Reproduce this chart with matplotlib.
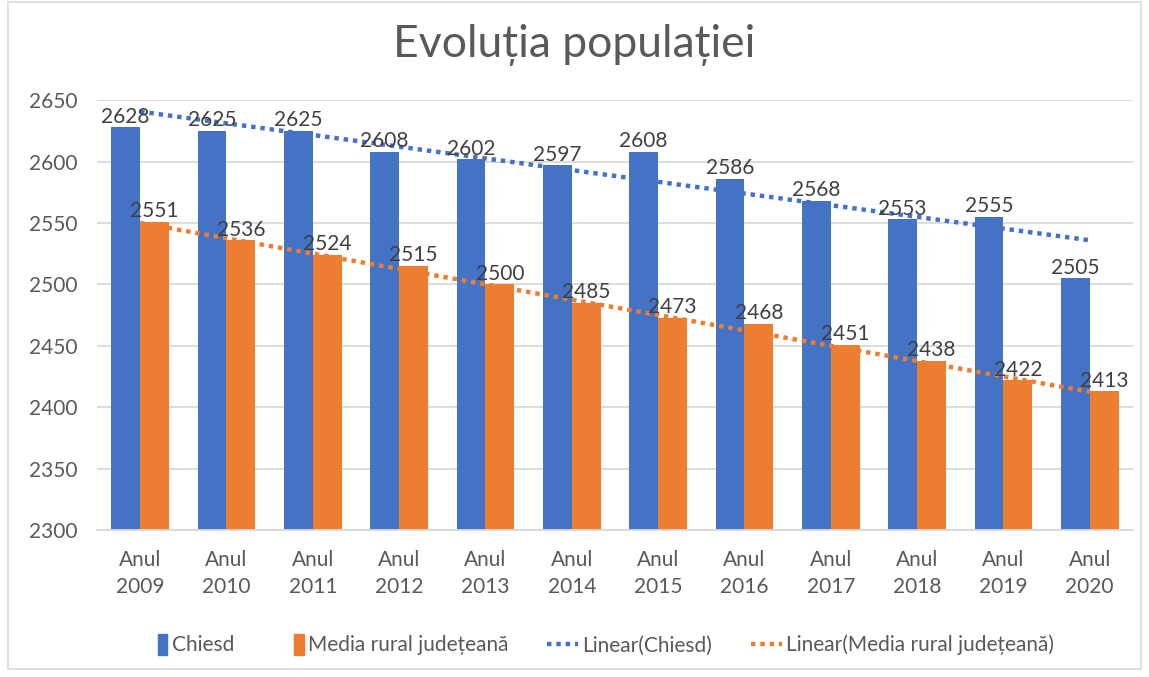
import numpy as np
import matplotlib
matplotlib.use("Agg")
import matplotlib.pyplot as plt
from matplotlib.patches import Rectangle, Patch
from matplotlib.legend_handler import HandlerPatch

plt.rcParams['font.family'] = ['Lato', 'DejaVu Sans']

years = ['Anul\n2009', 'Anul\n2010', 'Anul\n2011', 'Anul\n2012', 'Anul\n2013', 'Anul\n2014',
         'Anul\n2015', 'Anul\n2016', 'Anul\n2017', 'Anul\n2018', 'Anul\n2019', 'Anul\n2020']
chiesd = [2628, 2625, 2625, 2608, 2602, 2597, 2608, 2586, 2568, 2553, 2555, 2505]
media = [2551, 2536, 2524, 2515, 2500, 2485, 2473, 2468, 2451, 2438, 2422, 2413]

blue = '#4472C4'
orange = '#ED7D31'
text_col = '#595959'
label_col = '#404040'

fig = plt.figure(figsize=(11.49, 6.77), dpi=100)
ax = fig.add_axes([0.0844, 0.217, 0.9016, 0.635])

x = np.arange(len(years))
w = 0.335
ax.bar(x - w / 2, chiesd, w, color=blue, zorder=2)
ax.bar(x + w / 2, media, w, color=orange, zorder=2)

for xi, v in zip(x, chiesd):
    ax.text(xi - w / 2, v + 0.5, str(v), ha='center', va='bottom', fontsize=15, color=label_col, zorder=4)
for xi, v in zip(x, media):
    ax.text(xi + w / 2, v + 0.5, str(v), ha='center', va='bottom', fontsize=15, color=label_col, zorder=4)

# linear trend lines
k1 = np.polyfit(x, chiesd, 1)
k2 = np.polyfit(x, media, 1)
t1, = ax.plot(x, np.polyval(k1, x), color=blue, linestyle=(0, (1, 1.1)), linewidth=3.2, zorder=3)
t2, = ax.plot(x, np.polyval(k2, x), color=orange, linestyle=(0, (1, 1.1)), linewidth=3.2, zorder=3)

ax.set_xlim(-0.5, len(years) - 0.5)
ax.set_ylim(2300, 2650)
ax.set_yticks(np.arange(2300, 2651, 50))
ax.yaxis.grid(True, color='#D9D9D9', linewidth=1.3, zorder=0)
ax.set_xticks(x)
ax.set_xticklabels(years, fontsize=15, color=text_col, linespacing=1.45)
ax.tick_params(axis='y', labelsize=15, labelcolor=text_col, length=0, pad=14)
ax.tick_params(axis='x', length=0, pad=14)
for s in ['top', 'right', 'left']:
    ax.spines[s].set_visible(False)
ax.spines['bottom'].set_color('#D9D9D9')
ax.spines['bottom'].set_linewidth(1.3)

fig.text(0.5, 0.933, 'Evoluția populației', ha='center', va='center', fontsize=32, color=text_col)


def narrow_box(legend, orig_handle, xdescent, ydescent, width, height, fontsize):
    bw = width * 0.3
    return Rectangle((width - bw - xdescent, -ydescent - height * 0.25), bw, height * 1.45)


handles = [Patch(color=blue), Patch(color=orange), t1, t2]
labels = ['Chiesd', 'Media rural județeană', 'Linear(Chiesd)', 'Linear(Media rural județeană)']
fig.legend(handles, labels, loc='center', bbox_to_anchor=(0.518, 0.047),
           ncol=4, frameon=False, fontsize=15, labelcolor=text_col, handlelength=1.5,
           handletextpad=0.2, columnspacing=1.85,
           handler_map={Patch: HandlerPatch(patch_func=narrow_box)})

fig.patches.append(Rectangle((0.007, 0.012), 0.986, 0.985, transform=fig.transFigure,
                             fill=False, edgecolor='#D9D9D9', linewidth=1.2))

fig.savefig('out.png', dpi=100)
